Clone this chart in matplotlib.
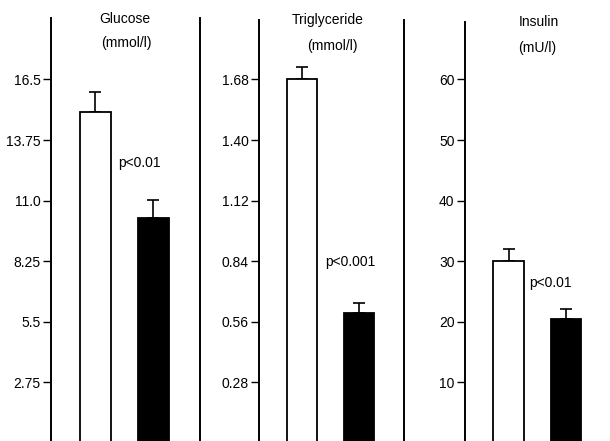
import matplotlib
matplotlib.use("Agg")
import matplotlib.pyplot as plt

plt.rcParams['font.family'] = ['Liberation Sans', 'DejaVu Sans']

# values (before / after)
titles = ["Glucose", "Triglyceride", "Insulin"]
units = ["(mmol/l)", "(mmol/l)", "(mU/l)"]
before = [15.0, 1.68, 30.0]
after = [10.2, 0.60, 20.5]
before_err = [0.95, 0.055, 2.0]
after_err = [0.82, 0.045, 1.6]
p_labels = ["p<0.01", "p<0.001", "p<0.01"]
ticks = [[2.75, 5.5, 8.25, 11.0, 13.75, 16.5],
         [0.28, 0.56, 0.84, 1.12, 1.40, 1.68],
         [10, 20, 30, 40, 50, 60]]
tick_labels = [["2.75", "5.5", "8.25", "11.0", "13.75", "16.5"],
               ["0.28", "0.56", "0.84", "1.12", "1.40", "1.68"],
               ["10", "20", "30", "40", "50", "60"]]

W, H = 610, 441
fig = plt.figure(figsize=(W / 100, H / 100), dpi=100)

def fx(x):
    return x / W

def fy(y):
    return 1 - y / H

# pixel layout of each panel: left, right, top
panels = [(51, 200, 18), (259, 404, 20), (465, 612, 22)]
zero_px = 443
step_px = 60.6
title_pos = [((125, 19), (126, 43)), ((328, 20), (332, 46)), ((539, 22), (537, 48))]
p_pos = [(118, 163), (325, 262), (529, 283)]

for i in range(3):
    left, right, top = panels[i]
    ax = fig.add_axes([fx(left), fy(zero_px), (right - left) / W, (zero_px - top) / H])
    unit = ticks[i][0]
    ax.set_ylim(0, (zero_px - top) / step_px * unit)
    ax.set_xlim(-0.76, 1.80)
    ax.bar([0], [before[i]], width=0.53, color="white", edgecolor="black", linewidth=1.3, zorder=2)
    ax.bar([1], [after[i]], width=0.53, color="black", edgecolor="black", linewidth=1.3, zorder=2)
    ax.errorbar([0, 1], [before[i], after[i]],
                yerr=[[0, 0], [before_err[i], after_err[i]]],
                fmt="none", ecolor="black", elinewidth=1.2, capsize=4, capthick=1.2, zorder=1)
    ax.set_yticks(ticks[i])
    ax.set_yticklabels(tick_labels[i], fontsize=10)
    ax.set_xticks([])
    ax.tick_params(axis="y", direction="out", length=6, width=1, pad=1.5)
    for s in ["top", "bottom"]:
        ax.spines[s].set_visible(False)
    ax.spines["left"].set_linewidth(1.4)
    ax.spines["right"].set_linewidth(1.4)

    (tx1, ty1), (tx2, ty2) = title_pos[i]
    fig.text(fx(tx1), fy(ty1), titles[i], ha="center", va="center", fontsize=10)
    fig.text(fx(tx2), fy(ty2), units[i], ha="center", va="center", fontsize=10)
    px, py = p_pos[i]
    fig.text(fx(px), fy(py), p_labels[i], ha="left", va="center", fontsize=10)

fig.savefig("out.png", dpi=100)
